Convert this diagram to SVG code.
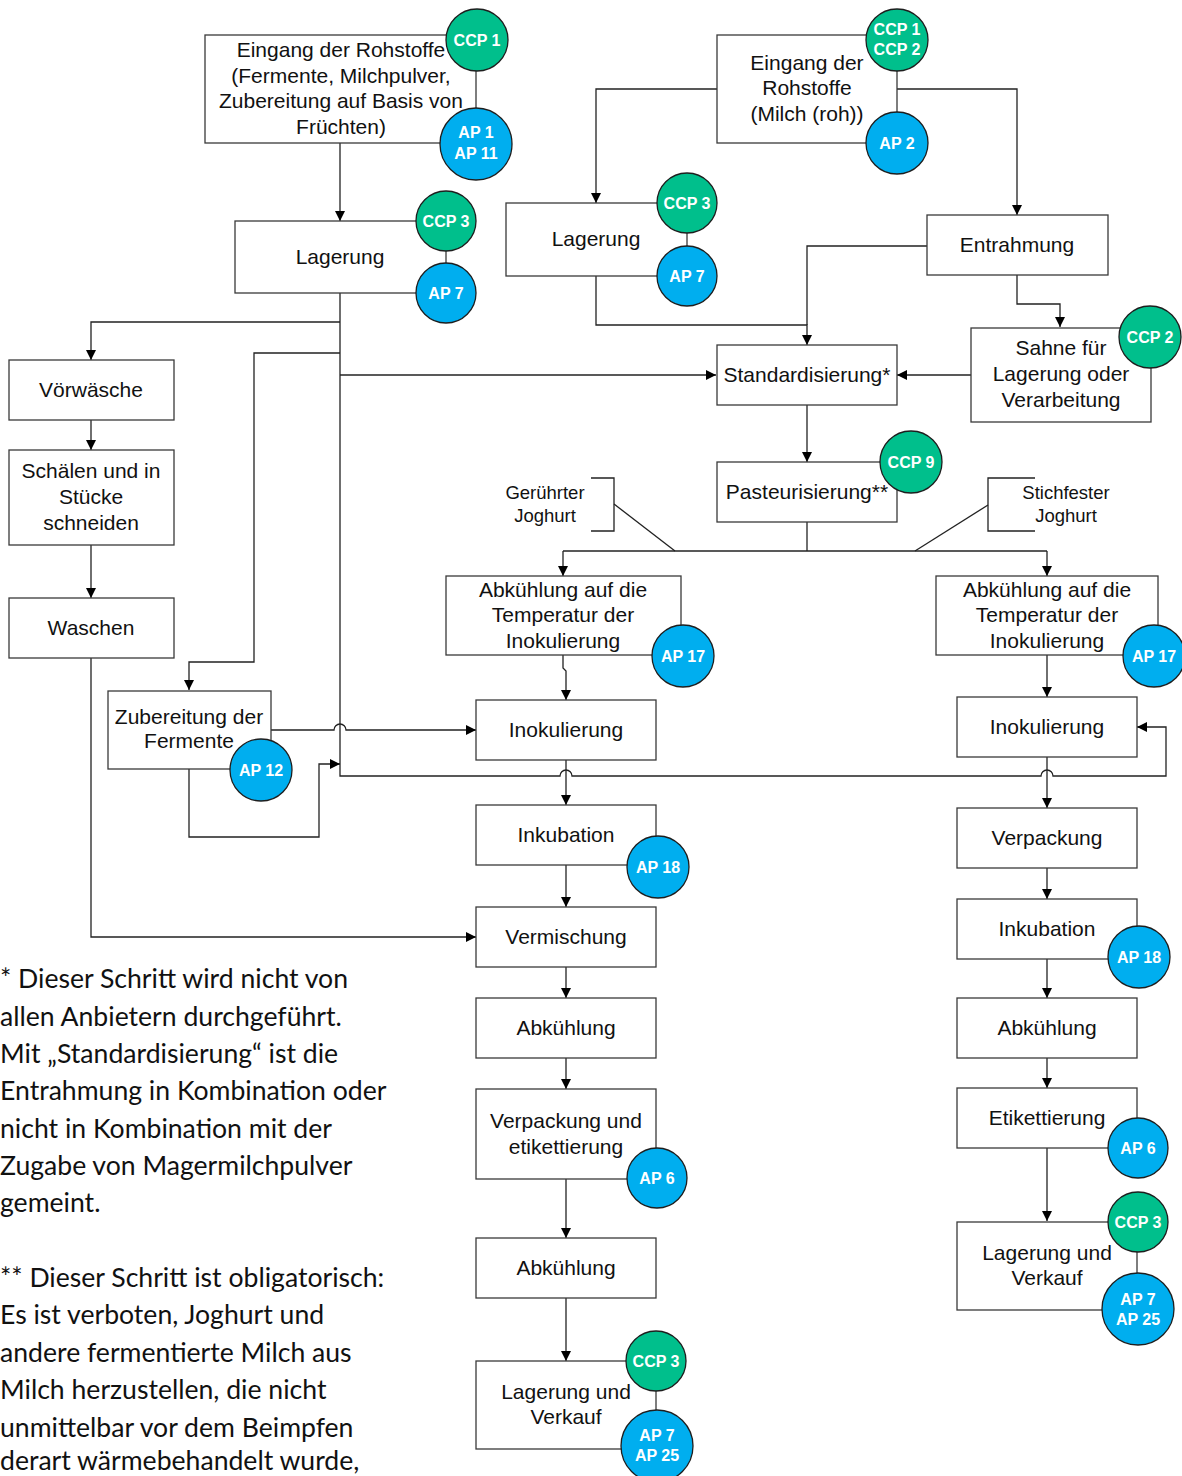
<svg xmlns="http://www.w3.org/2000/svg" width="1182" height="1476" viewBox="0 0 1182 1476">
  <defs>
    <style>
      .box { fill: #fff; stroke: #3a3a3a; stroke-width: 1.3; }
      .t { font-family: "Liberation Sans", Arial, sans-serif; font-size: 21px; fill: #111; text-anchor: middle; }
      .lbl { font-family: "Liberation Sans", Arial, sans-serif; font-size: 18.5px; fill: #111; text-anchor: middle; }
      .ccp { fill: #00BF8C; stroke: #1e1e1e; stroke-width: 1.3; }
      .ap { fill: #00AEEF; stroke: #1e1e1e; stroke-width: 1.3; }
      .ct { font-family: "Liberation Sans", Arial, sans-serif; font-weight: bold; font-size: 16px; fill: #fff; text-anchor: middle; }
      .ln { fill: none; stroke: #222; stroke-width: 1.3; }
      .note { font-family: Lato, "Open Sans", sans-serif; font-size: 26.6px; fill: #111; }
    </style>
    <marker id="ah" viewBox="0 0 10 10" refX="10" refY="5" markerWidth="10" markerHeight="10" markerUnits="userSpaceOnUse" orient="auto">
      <path d="M0,0 L10,5 L0,10 z" fill="#000"/>
    </marker>
  </defs>

  <rect width="1182" height="1476" fill="#fff"/>

  <!-- connectors -->
  <g id="connectors" class="ln">
    <path d="M340,143 V221" marker-end="url(#ah)"/>
    <path d="M340,293 V776 H560 a6,6 0 0 1 12,0 H1041 a6,6 0 0 1 12,0 H1166 V727 H1137" marker-end="url(#ah)"/>
    <path d="M340,322 H91 V360" marker-end="url(#ah)"/>
    <path d="M340,353 H254 V662 H189 V690" marker-end="url(#ah)"/>
    <path d="M340,375 H716" marker-end="url(#ah)"/>
    <path d="M91,420 V450" marker-end="url(#ah)"/>
    <path d="M91,545 V598" marker-end="url(#ah)"/>
    <path d="M91,658 V937 H476" marker-end="url(#ah)"/>
    <path d="M271,730 H334 a6,6 0 0 1 12,0 H476" marker-end="url(#ah)"/>
    <path d="M189,769 V837 H319 V764 H340" marker-end="url(#ah)"/>
    <path d="M717,89 H596 V203" marker-end="url(#ah)"/>
    <path d="M897,89 H1017 V215" marker-end="url(#ah)"/>
    <path d="M596,276 V325 H807 V345" marker-end="url(#ah)"/>
    <path d="M927,246 H807 V325"/>
    <path d="M1017,275 V304 H1060 V327" marker-end="url(#ah)"/>
    <path d="M971,375 H897" marker-end="url(#ah)"/>
    <path d="M807,405 V462" marker-end="url(#ah)"/>
    <path d="M807,522 V551"/>
    <path d="M563,551 H1047"/>
    <path d="M563,551 V576" marker-end="url(#ah)"/>
    <path d="M1047,551 V576" marker-end="url(#ah)"/>
    <!-- branch label brackets -->
    <path d="M591,478 H614 V531 H591"/>
    <path d="M614,504 L675,551"/>
    <path d="M1035,478 H988 V531 H1035"/>
    <path d="M988,505 L915,551"/>
    <!-- stirred yoghurt line -->
    <path d="M563,655 V668 L566,671 V700" marker-end="url(#ah)"/>
    <path d="M566,760 V805" marker-end="url(#ah)"/>
    <path d="M566,865 V907" marker-end="url(#ah)"/>
    <path d="M566,967 V998" marker-end="url(#ah)"/>
    <path d="M566,1058 V1089" marker-end="url(#ah)"/>
    <path d="M566,1179 V1238" marker-end="url(#ah)"/>
    <path d="M566,1298 V1361" marker-end="url(#ah)"/>
    <!-- set yoghurt line -->
    <path d="M1047,655 V697" marker-end="url(#ah)"/>
    <path d="M1047,757 V808" marker-end="url(#ah)"/>
    <path d="M1047,868 V899" marker-end="url(#ah)"/>
    <path d="M1047,959 V998" marker-end="url(#ah)"/>
    <path d="M1047,1058 V1088" marker-end="url(#ah)"/>
    <path d="M1047,1148 V1221" marker-end="url(#ah)"/>
  </g>

  <!-- branch labels text -->
  <g id="label-geruehrt">
    <text class="lbl" x="545" y="499">Gerührter</text>
    <text class="lbl" x="545" y="522">Joghurt</text>
  </g>
  <g id="label-stichfest">
    <text class="lbl" x="1066" y="499">Stichfester</text>
    <text class="lbl" x="1066" y="522">Joghurt</text>
  </g>

  <!-- nodes -->
  <g id="n-eingang-1">
    <rect class="box" x="205" y="35" width="271" height="108"/>
    <text class="t" x="341" y="57">Eingang der Rohstoffe</text>
    <text class="t" x="341" y="83">(Fermente, Milchpulver,</text>
    <text class="t" x="341" y="108">Zubereitung auf Basis von</text>
    <text class="t" x="341" y="134">Früchten)</text>
    <circle class="ccp" cx="477" cy="40" r="31"/>
    <text class="ct" x="477" y="46">CCP 1</text>
    <circle class="ap" cx="476" cy="144" r="36"/>
    <text class="ct" x="476" y="138">AP 1</text>
    <text class="ct" x="476" y="159">AP 11</text>
  </g>

  <g id="n-eingang-2">
    <rect class="box" x="717" y="35" width="180" height="108"/>
    <text class="t" x="807" y="70">Eingang der</text>
    <text class="t" x="807" y="95">Rohstoffe</text>
    <text class="t" x="807" y="121">(Milch (roh))</text>
    <circle class="ccp" cx="897" cy="40" r="31"/>
    <text class="ct" x="897" y="35">CCP 1</text>
    <text class="ct" x="897" y="55">CCP 2</text>
    <circle class="ap" cx="897" cy="143" r="31"/>
    <text class="ct" x="897" y="149">AP 2</text>
  </g>

  <g id="n-lagerung-1">
    <rect class="box" x="235" y="221" width="211" height="72"/>
    <text class="t" x="340" y="264">Lagerung</text>
    <circle class="ccp" cx="446" cy="221" r="30"/>
    <text class="ct" x="446" y="227">CCP 3</text>
    <circle class="ap" cx="446" cy="293" r="30"/>
    <text class="ct" x="446" y="299">AP 7</text>
  </g>

  <g id="n-lagerung-2">
    <rect class="box" x="506" y="203" width="181" height="73"/>
    <text class="t" x="596" y="246">Lagerung</text>
    <circle class="ccp" cx="687" cy="203" r="30"/>
    <text class="ct" x="687" y="209">CCP 3</text>
    <circle class="ap" cx="687" cy="276" r="30"/>
    <text class="ct" x="687" y="282">AP 7</text>
  </g>

  <g id="n-entrahmung">
    <rect class="box" x="927" y="215" width="181" height="60"/>
    <text class="t" x="1017" y="252">Entrahmung</text>
  </g>

  <g id="n-sahne">
    <rect class="box" x="971" y="328" width="180" height="94"/>
    <text class="t" x="1061" y="355">Sahne für</text>
    <text class="t" x="1061" y="381">Lagerung oder</text>
    <text class="t" x="1061" y="407">Verarbeitung</text>
    <circle class="ccp" cx="1150" cy="337" r="31"/>
    <text class="ct" x="1150" y="343">CCP 2</text>
  </g>

  <g id="n-standardisierung">
    <rect class="box" x="717" y="345" width="180" height="60"/>
    <text class="t" x="807" y="382">Standardisierung*</text>
  </g>

  <g id="n-pasteurisierung">
    <rect class="box" x="717" y="462" width="180" height="60"/>
    <text class="t" x="807" y="499">Pasteurisierung**</text>
    <circle class="ccp" cx="911" cy="462" r="31"/>
    <text class="ct" x="911" y="468">CCP 9</text>
  </g>

  <g id="n-vorwaesche">
    <rect class="box" x="9" y="360" width="165" height="60"/>
    <text class="t" x="91" y="397">Vörwäsche</text>
  </g>

  <g id="n-schaelen">
    <rect class="box" x="9" y="450" width="165" height="95"/>
    <text class="t" x="91" y="478">Schälen und in</text>
    <text class="t" x="91" y="504">Stücke</text>
    <text class="t" x="91" y="530">schneiden</text>
  </g>

  <g id="n-waschen">
    <rect class="box" x="9" y="598" width="165" height="60"/>
    <text class="t" x="91" y="635">Waschen</text>
  </g>

  <g id="n-fermente">
    <rect class="box" x="108" y="691" width="163" height="78"/>
    <text class="t" x="189" y="724">Zubereitung der</text>
    <text class="t" x="189" y="748">Fermente</text>
    <circle class="ap" cx="261" cy="770" r="31"/>
    <text class="ct" x="261" y="776">AP 12</text>
  </g>

  <!-- stirred yoghurt -->
  <g id="n-abkuehlung-temp-1">
    <rect class="box" x="446" y="576" width="235" height="79"/>
    <text class="t" x="563" y="597">Abkühlung auf die</text>
    <text class="t" x="563" y="622">Temperatur der</text>
    <text class="t" x="563" y="648">Inokulierung</text>
    <circle class="ap" cx="683" cy="656" r="31"/>
    <text class="ct" x="683" y="662">AP 17</text>
  </g>

  <g id="n-inokulierung-1">
    <rect class="box" x="476" y="700" width="180" height="60"/>
    <text class="t" x="566" y="737">Inokulierung</text>
  </g>

  <g id="n-inkubation-1">
    <rect class="box" x="476" y="805" width="180" height="60"/>
    <text class="t" x="566" y="842">Inkubation</text>
    <circle class="ap" cx="658" cy="867" r="31"/>
    <text class="ct" x="658" y="873">AP 18</text>
  </g>

  <g id="n-vermischung">
    <rect class="box" x="476" y="907" width="180" height="60"/>
    <text class="t" x="566" y="944">Vermischung</text>
  </g>

  <g id="n-abkuehlung-1">
    <rect class="box" x="476" y="998" width="180" height="60"/>
    <text class="t" x="566" y="1035">Abkühlung</text>
  </g>

  <g id="n-verpackung-etikett">
    <rect class="box" x="476" y="1089" width="180" height="90"/>
    <text class="t" x="566" y="1128">Verpackung und</text>
    <text class="t" x="566" y="1154">etikettierung</text>
    <circle class="ap" cx="657" cy="1178" r="30"/>
    <text class="ct" x="657" y="1184">AP 6</text>
  </g>

  <g id="n-abkuehlung-2">
    <rect class="box" x="476" y="1238" width="180" height="60"/>
    <text class="t" x="566" y="1275">Abkühlung</text>
  </g>

  <g id="n-lagerung-verkauf-1">
    <rect class="box" x="476" y="1361" width="180" height="88"/>
    <text class="t" x="566" y="1399">Lagerung und</text>
    <text class="t" x="566" y="1424">Verkauf</text>
    <circle class="ccp" cx="656" cy="1361" r="30"/>
    <text class="ct" x="656" y="1367">CCP 3</text>
    <circle class="ap" cx="657" cy="1446" r="36"/>
    <text class="ct" x="657" y="1441">AP 7</text>
    <text class="ct" x="657" y="1461">AP 25</text>
  </g>

  <!-- set yoghurt -->
  <g id="n-abkuehlung-temp-2">
    <rect class="box" x="936" y="576" width="222" height="79"/>
    <text class="t" x="1047" y="597">Abkühlung auf die</text>
    <text class="t" x="1047" y="622">Temperatur der</text>
    <text class="t" x="1047" y="648">Inokulierung</text>
    <circle class="ap" cx="1154" cy="656" r="31"/>
    <text class="ct" x="1154" y="662">AP 17</text>
  </g>

  <g id="n-inokulierung-2">
    <rect class="box" x="957" y="697" width="180" height="60"/>
    <text class="t" x="1047" y="734">Inokulierung</text>
  </g>

  <g id="n-verpackung">
    <rect class="box" x="957" y="808" width="180" height="60"/>
    <text class="t" x="1047" y="845">Verpackung</text>
  </g>

  <g id="n-inkubation-2">
    <rect class="box" x="957" y="899" width="180" height="60"/>
    <text class="t" x="1047" y="936">Inkubation</text>
    <circle class="ap" cx="1139" cy="957" r="31"/>
    <text class="ct" x="1139" y="963">AP 18</text>
  </g>

  <g id="n-abkuehlung-3">
    <rect class="box" x="957" y="998" width="180" height="60"/>
    <text class="t" x="1047" y="1035">Abkühlung</text>
  </g>

  <g id="n-etikettierung">
    <rect class="box" x="957" y="1088" width="180" height="60"/>
    <text class="t" x="1047" y="1125">Etikettierung</text>
    <circle class="ap" cx="1138" cy="1148" r="30"/>
    <text class="ct" x="1138" y="1154">AP 6</text>
  </g>

  <g id="n-lagerung-verkauf-2">
    <rect class="box" x="957" y="1222" width="180" height="88"/>
    <text class="t" x="1047" y="1260">Lagerung und</text>
    <text class="t" x="1047" y="1285">Verkauf</text>
    <circle class="ccp" cx="1138" cy="1222" r="30"/>
    <text class="ct" x="1138" y="1228">CCP 3</text>
    <circle class="ap" cx="1138" cy="1309" r="36"/>
    <text class="ct" x="1138" y="1305">AP 7</text>
    <text class="ct" x="1138" y="1325">AP 25</text>
  </g>

  <!-- footnotes -->
  <g id="footnotes" class="note">
    <text x="0" y="988">* Dieser Schritt wird nicht von</text>
    <text x="0" y="1026">allen Anbietern durchgeführt.</text>
    <text x="0" y="1063">Mit „Standardisierung“ ist die</text>
    <text x="0" y="1100">Entrahmung in Kombination oder</text>
    <text x="0" y="1138">nicht in Kombination mit der</text>
    <text x="0" y="1175">Zugabe von Magermilchpulver</text>
    <text x="0" y="1212">gemeint.</text>
    <text x="0" y="1287">** Dieser Schritt ist obligatorisch:</text>
    <text x="0" y="1324">Es ist verboten, Joghurt und</text>
    <text x="0" y="1362">andere fermentierte Milch aus</text>
    <text x="0" y="1399">Milch herzustellen, die nicht</text>
    <text x="0" y="1437">unmittelbar vor dem Beimpfen</text>
    <text x="0" y="1470">derart wärmebehandelt wurde,</text>
  </g>
</svg>
